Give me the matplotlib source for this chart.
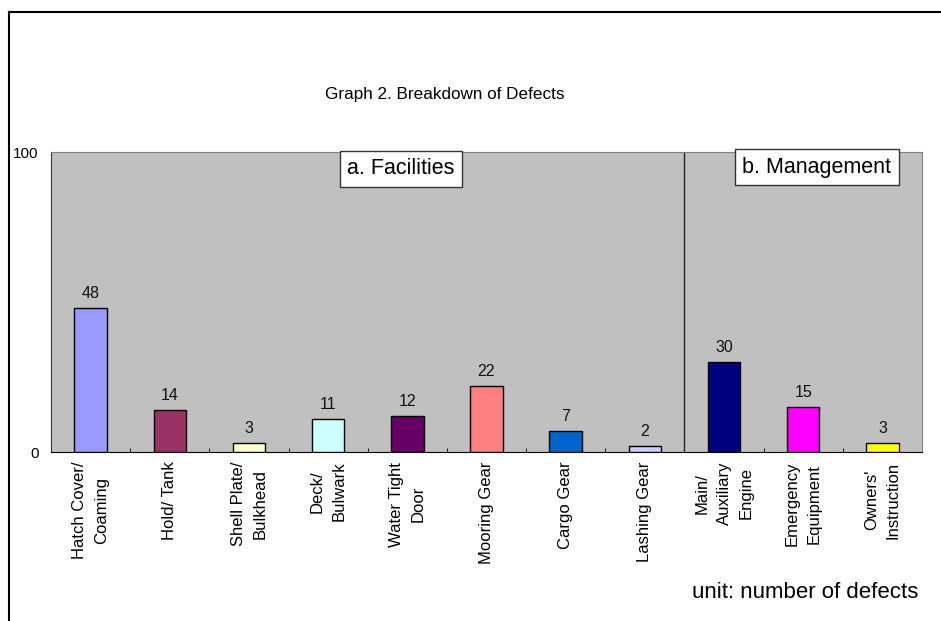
import matplotlib
matplotlib.use("Agg")
import matplotlib.pyplot as plt
from matplotlib.lines import Line2D
import numpy as np

plt.rcParams['font.family'] = ['Liberation Sans', 'DejaVu Sans']

categories = ["Hatch Cover/\nCoaming", "Hold/ Tank", "Shell Plate/\nBulkhead",
              "Deck/\nBulwark", "Water Tight\nDoor", "Mooring Gear", "Cargo Gear",
              "Lashing Gear", "Main/\nAuxiliary\nEngine", "Emergency\nEquipment",
              "Owners'\nInstruction"]
values = [48, 14, 3, 11, 12, 22, 7, 2, 30, 15, 3]
colors = ["#9999FF", "#993366", "#FFFFCC", "#CCFFFF", "#660066", "#FF8080",
          "#0066CC", "#CCCCFF", "#000080", "#FF00FF", "#FFFF00"]
n_facilities = 8

W, H = 941, 621
fig = plt.figure(figsize=(W / 100, H / 100), dpi=100)
ax = fig.add_axes([51 / W, 1 - 452 / H, (922 - 51) / W, (452 - 152) / H])
ax.set_facecolor("#C0C0C0")

x = np.arange(len(values))
ax.bar(x, values, width=0.41, color=colors, edgecolor="black", linewidth=1.0, zorder=3)
for xi, v in zip(x, values):
    ax.annotate(str(v), (xi, v), xytext=(0, 5), textcoords="offset points",
                ha="center", va="bottom", fontsize=11.5, color="#111111")

ax.set_xlim(-0.5, len(values) - 0.5)
ax.set_ylim(0, 100)
ax.set_yticks([0, 100])
ax.set_yticklabels(["0", "100"], fontsize=11)
ax.tick_params(axis="y", length=0, pad=9)

ax.set_xticks(x)
ax.set_xticklabels(categories, rotation=90, fontsize=12, va="top", ha="center",
                   multialignment="center", linespacing=1.55)
ax.tick_params(axis="x", length=0, pad=7)
ax.set_xticks(np.arange(0.5, len(values) - 0.5, 1), minor=True)
ax.tick_params(axis="x", which="minor", direction="in", length=3, color="black")

ax.spines["top"].set_color("#808080")
ax.spines["right"].set_color("#808080")
ax.spines["left"].set_color("#333333")
ax.spines["bottom"].set_color("black")

ax.axvline(n_facilities - 0.5, color="#222222", linewidth=1.0, zorder=2)

fig.text(445 / W, 1 - 94 / H, "Graph 2. Breakdown of Defects", ha="center", va="center",
         fontsize=12.3)
box = dict(boxstyle="square,pad=0.35", facecolor="white", edgecolor="#333333", linewidth=1.0)
fig.text(401 / W, 1 - 169 / H, "a. Facilities", ha="center", va="center",
         fontsize=15.5, bbox=box)
fig.text(817 / W, 1 - 167 / H, "b. Management", ha="center", va="center",
         fontsize=15.5, bbox=box)
fig.text(918 / W, 1 - 593 / H, "unit: number of defects", ha="right", va="center",
         fontsize=16)

fig.add_artist(Line2D([8.5 / W, 8.5 / W], [0, 1 - 11.5 / H], color="black", linewidth=1.5,
                      transform=fig.transFigure))
fig.add_artist(Line2D([8.5 / W, 1], [1 - 11.5 / H, 1 - 11.5 / H], color="black",
                      linewidth=1.5, transform=fig.transFigure))

fig.savefig("out.png", dpi=100, facecolor="white")
